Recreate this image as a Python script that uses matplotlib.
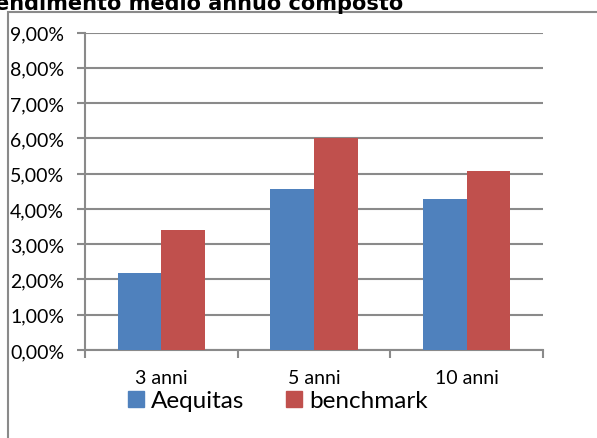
import matplotlib
matplotlib.use('Agg')
import matplotlib.pyplot as plt
import matplotlib.patches as mpatches
import numpy as np
from matplotlib.ticker import FuncFormatter

categories = ['3 anni', '5 anni', '10 anni']
aequitas = [2.19, 4.56, 4.29]
benchmark = [3.40, 6.00, 5.06]
series_names = ['Aequitas', 'benchmark']
colors = ['#4F81BD', '#C0504D']
grey = '#8a8a8a'

W, H = 597, 439
plt.rcParams['font.family'] = ['Lato', 'DejaVu Sans']

fig = plt.figure(figsize=(W / 100, H / 100), dpi=100)
ax = fig.add_axes([85 / W, 88 / H, 458 / W, 317.5 / H])

x = np.arange(len(categories))
bw = 1 / 3.5
ax.bar(x - bw / 2, aequitas, bw, color=colors[0], zorder=3)
ax.bar(x + bw / 2, benchmark, bw, color=colors[1], zorder=3)

ax.set_xlim(-0.5, len(categories) - 0.5)
ax.set_ylim(0, 9)
ax.set_yticks(np.arange(0, 10, 1))
ax.yaxis.set_major_formatter(FuncFormatter(lambda v, p: ('%.2f%%' % v).replace('.', ',')))
ax.grid(axis='y', color=grey, lw=1.5, zorder=0)
ax.tick_params(axis='y', length=6, width=1.5, color=grey, pad=9, labelsize=14)

ax.set_xticks(np.arange(-0.5, len(categories), 1))
ax.set_xticklabels([])
ax.set_xticks(x, minor=True)
ax.set_xticklabels(categories, minor=True)
ax.tick_params(axis='x', which='major', length=6, width=1.5, color=grey)
ax.tick_params(axis='x', which='minor', length=0, pad=14, labelsize=14)

for s in ['top', 'right']:
    ax.spines[s].set_visible(False)
for s in ['left', 'bottom']:
    ax.spines[s].set_color(grey)
    ax.spines[s].set_linewidth(1.5)

handles = [mpatches.Patch(color=c, label=n) for c, n in zip(colors, series_names)]
fig.legend(handles=handles, loc='center', bbox_to_anchor=(278 / W, 1 - 402 / H),
           ncol=2, frameon=False, fontsize=17.5, handlelength=0.65, handleheight=0.65,
           handletextpad=0.3, columnspacing=1.7, borderpad=0)

# title is cut off at the top edge, as in the source image
fig.text(403 / W, 1 - 10 / H, 'Rendimento medio annuo composto', ha='right', va='baseline',
         fontweight='bold', fontsize=15, family='DejaVu Sans')

border = mpatches.Rectangle((7.5 / W, -0.2), 1.2, 1.2 - 12.5 / H, transform=fig.transFigure,
                            fill=False, edgecolor=grey, lw=1.5, clip_on=False)
fig.patches.append(border)

fig.savefig('out.png', dpi=100)
